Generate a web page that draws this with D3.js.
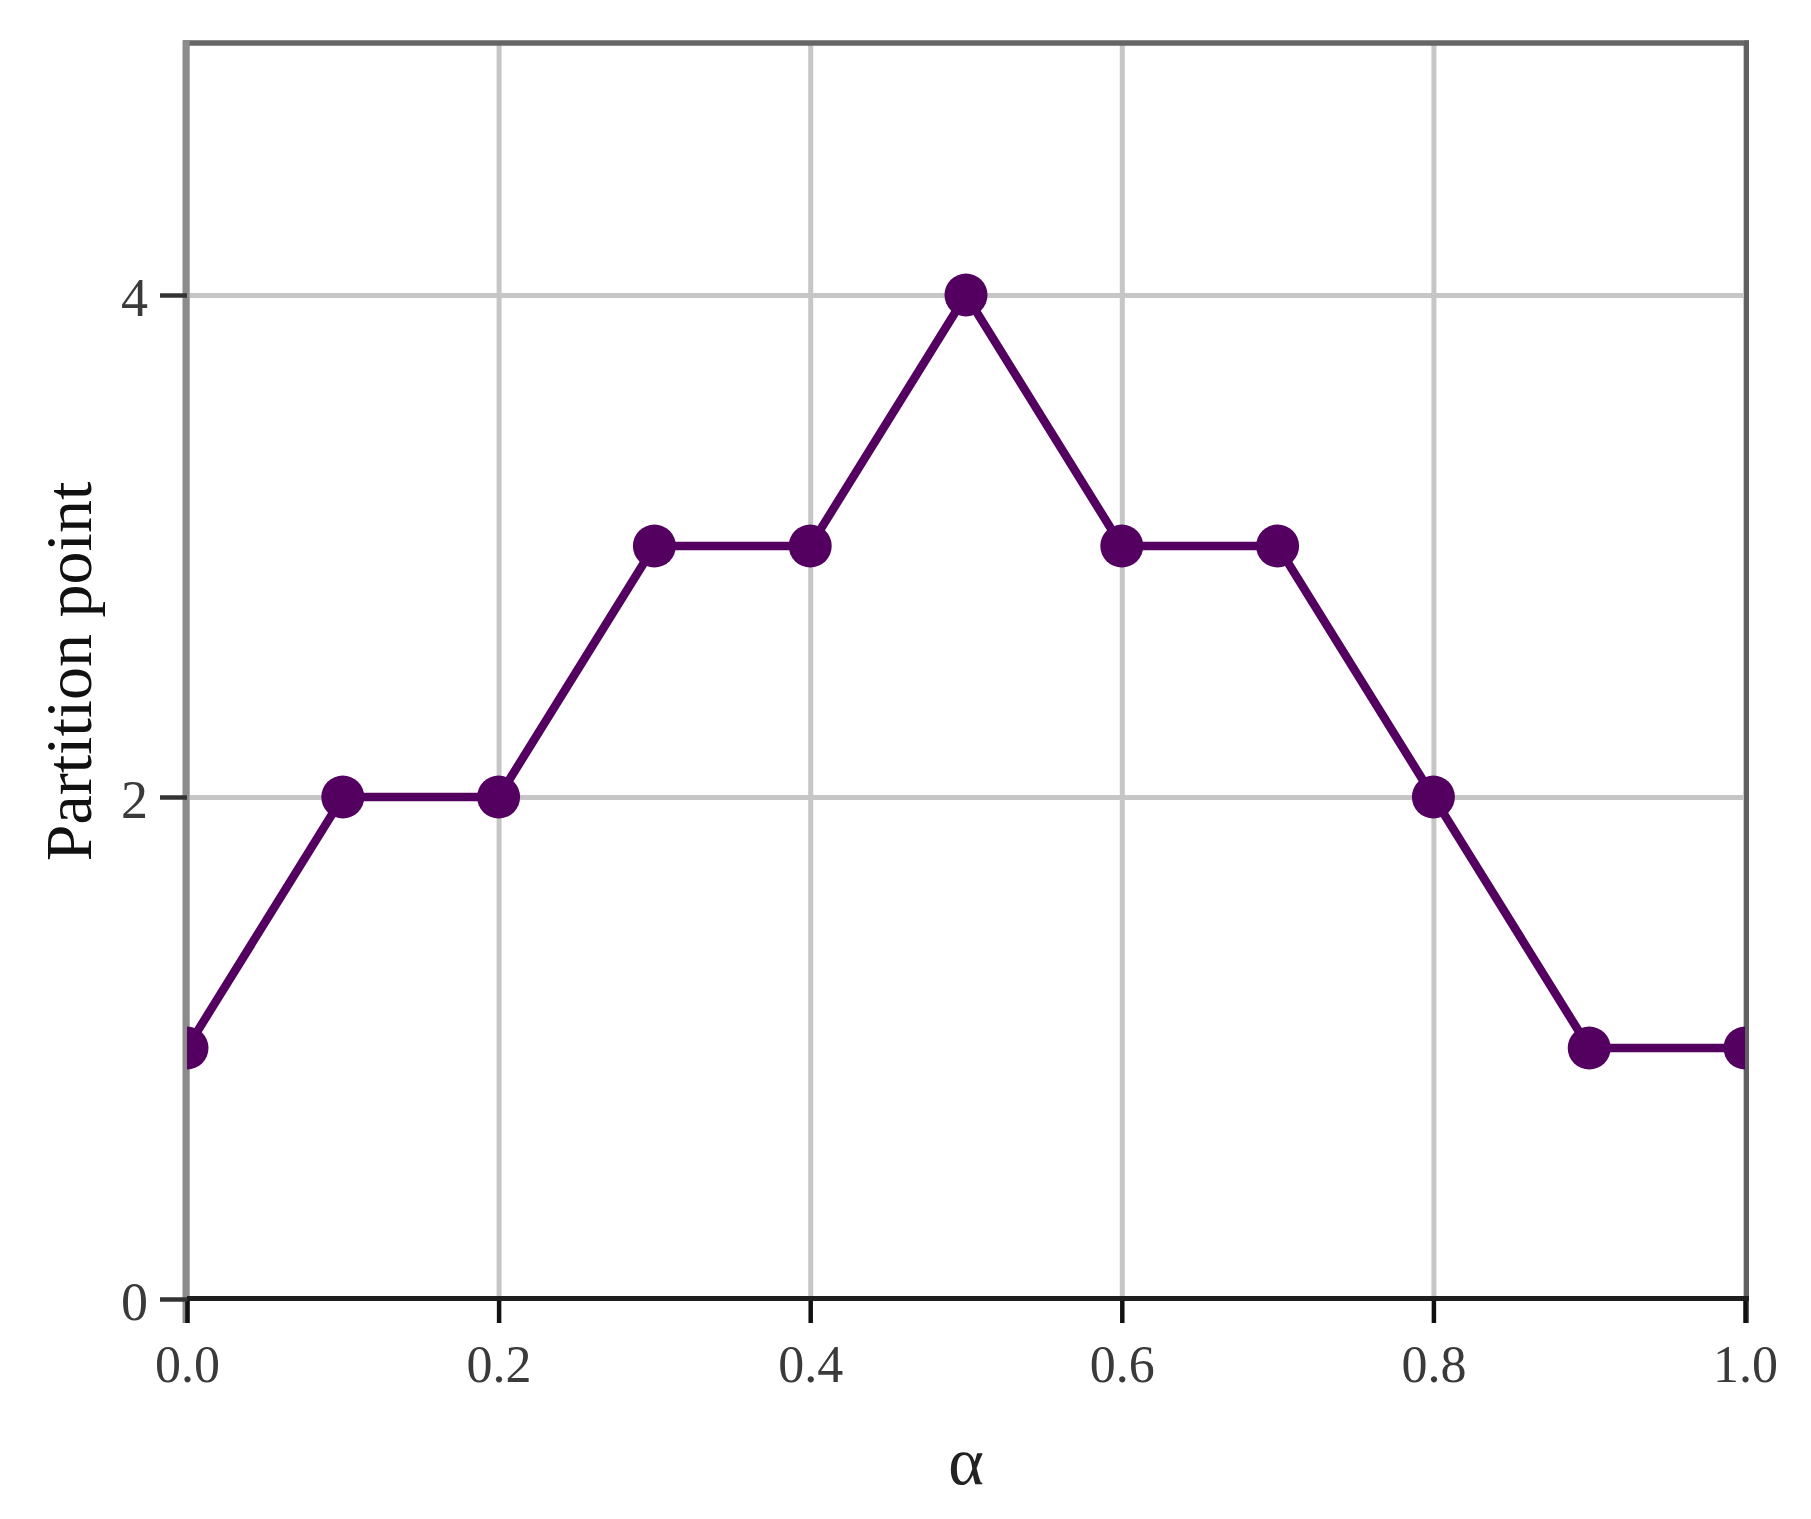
<!DOCTYPE html>
<html>
<head>
<meta charset="utf-8">
<script src="https://cdn.jsdelivr.net/npm/d3@7"></script>
<style>
  html, body { margin: 0; padding: 0; background: #fff; }
  svg { display: block; }
</style>
</head>
<body>
<script>
// ---- data ----
const alphaValues = [0.0, 0.1, 0.2, 0.3, 0.4, 0.5, 0.6, 0.7, 0.8, 0.9, 1.0];
const partitionPoint = [1, 2, 2, 3, 3, 4, 3, 3, 2, 1, 1];
const xTickValues = [0.0, 0.2, 0.4, 0.6, 0.8, 1.0];
const xTickLabels = ["0.0", "0.2", "0.4", "0.6", "0.8", "1.0"];
const yTickValues = [0, 2, 4];
const yTickLabels = ["0", "2", "4"];
const xTitle = "α";
const yTitle = "Partition point";

// ---- layout ----
const W = 1811, H = 1519;
const L = 187, R = 1745, T = 44, B = 1299;
const serif = "'Liberation Serif', 'Times New Roman', Times, serif";
const lineColor = "#530060";

const svg = d3.select("body").append("svg").attr("width", W).attr("height", H);

const x = d3.scaleLinear().domain([0, 1]).range([L, R]);
const y = d3.scaleLinear().domain([0, 5]).range([B, T]);

// gridlines
const gx = svg.append("g").attr("transform", `translate(0,${B})`)
  .call(d3.axisBottom(x).tickValues(xTickValues).tickSize(-(B - T)).tickFormat(""));
gx.select(".domain").remove();
gx.selectAll("line").attr("stroke", "#c6c6c6").attr("stroke-width", 5);

const gy = svg.append("g").attr("transform", `translate(${L},0)`)
  .call(d3.axisLeft(y).tickValues(yTickValues.filter(v => v > 0)).tickSize(-(R - L)).tickFormat(""));
gy.select(".domain").remove();
gy.selectAll("line").attr("stroke", "#c6c6c6").attr("stroke-width", 5);

// frame
svg.append("line").attr("x1", L - 4).attr("x2", R + 4).attr("y1", T - 1).attr("y2", T - 1)
  .attr("stroke", "#666").attr("stroke-width", 5.5);
svg.append("line").attr("x1", R + 1.5).attr("x2", R + 1.5).attr("y1", T - 3.5).attr("y2", B + 24)
  .attr("stroke", "#606060").attr("stroke-width", 5);
svg.append("line").attr("x1", L - 1).attr("x2", L - 1).attr("y1", T - 3.5).attr("y2", B + 24)
  .attr("stroke", "#8c8c8c").attr("stroke-width", 7);

// x axis
const ax = svg.append("g").attr("transform", `translate(0,${B})`)
  .call(d3.axisBottom(x).tickValues(xTickValues).tickSize(24)
    .tickFormat((d, i) => xTickLabels[i]));
ax.select(".domain").remove();
ax.selectAll(".tick line").attr("stroke", "#111").attr("stroke-width", 4.5);
ax.selectAll(".tick text")
  .attr("y", 83).attr("dy", 0)
  .attr("font-family", serif).attr("font-size", 52).attr("fill", "#3a3a3a");

// y axis
const ay = svg.append("g").attr("transform", `translate(${L},0)`)
  .call(d3.axisLeft(y).tickValues(yTickValues).tickSize(27)
    .tickFormat((d, i) => yTickLabels[i]));
ay.select(".domain").remove();
ay.selectAll(".tick line").attr("stroke", "#333").attr("stroke-width", 4.5);
ay.selectAll(".tick text")
  .attr("x", -39).attr("dy", 20)
  .attr("font-family", serif).attr("font-size", 54).attr("fill", "#3a3a3a");

// bottom spine
svg.append("line").attr("x1", L).attr("x2", R + 4).attr("y1", B - 0.5).attr("y2", B - 0.5)
  .attr("stroke", "#1e1e1e").attr("stroke-width", 5);

// clip
svg.append("clipPath").attr("id", "plotclip").append("rect")
  .attr("x", L).attr("y", T).attr("width", R - L).attr("height", B - T);

const data = alphaValues.map((a, i) => ({ a, p: partitionPoint[i] }));

const plot = svg.append("g").attr("clip-path", "url(#plotclip)");
plot.append("path").datum(data)
  .attr("d", d3.line().x(d => x(d.a)).y(d => y(d.p)))
  .attr("fill", "none").attr("stroke", lineColor).attr("stroke-width", 8.5)
  .attr("stroke-linejoin", "round");
plot.selectAll("circle").data(data).join("circle")
  .attr("cx", d => x(d.a)).attr("cy", d => y(d.p)).attr("r", 21.5)
  .attr("fill", lineColor);

// titles
svg.append("text").attr("x", (L + R) / 2).attr("y", 1484)
  .attr("text-anchor", "middle").attr("font-family", serif).attr("font-size", 68)
  .attr("fill", "#222").text(xTitle);
svg.append("text").attr("transform", `translate(91,${(483 + 860) / 2}) rotate(-90)`)
  .attr("text-anchor", "middle").attr("font-family", serif).attr("font-size", 66)
  .attr("fill", "#111").text(yTitle);
</script>
</body>
</html>
